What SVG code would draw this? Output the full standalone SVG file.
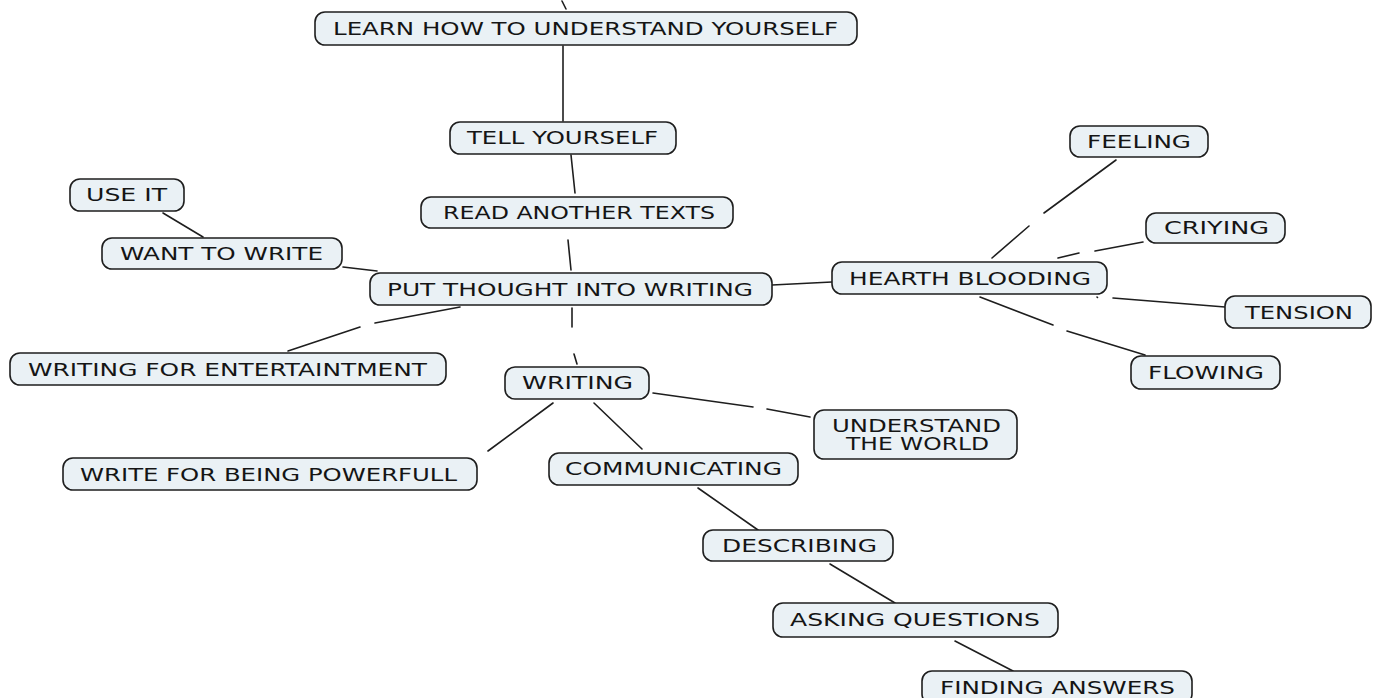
<svg xmlns="http://www.w3.org/2000/svg" width="1376" height="698" viewBox="0 0 1376 698">
<style>
.box{fill:#eaf1f5;stroke:#1e1e1e;stroke-width:1.6}
.t{font-family:"DejaVu Sans","Liberation Sans",sans-serif;font-size:17px;fill:#151515}
.c line{stroke:#1e1e1e;stroke-width:1.6;stroke-linecap:round}
</style>
<rect width="1376" height="698" fill="#ffffff"/>
<g class="c" id="connectors">
<line x1="562" y1="1" x2="566" y2="9"/>
<line x1="563" y1="46" x2="563" y2="121"/>
<line x1="571" y1="155" x2="575" y2="193"/>
<line x1="568" y1="240" x2="571" y2="270"/>
<line x1="572" y1="308" x2="572" y2="327"/>
<line x1="574" y1="354" x2="577" y2="364"/>
<line x1="343" y1="267" x2="377" y2="271"/>
<line x1="163" y1="213" x2="203" y2="237"/>
<line x1="460" y1="307" x2="375" y2="323"/>
<line x1="360" y1="327" x2="288" y2="351"/>
<line x1="772" y1="285" x2="832" y2="282"/>
<line x1="1116" y1="160" x2="1044" y2="213"/>
<line x1="1029" y1="226" x2="992" y2="258"/>
<line x1="1143" y1="242" x2="1095" y2="251"/>
<line x1="1079" y1="253" x2="1058" y2="258"/>
<line x1="1225" y1="307" x2="1113" y2="298"/>
<line x1="1097" y1="297" x2="1097.5" y2="297.5"/>
<line x1="980" y1="297" x2="1053" y2="325"/>
<line x1="1067" y1="331" x2="1145" y2="355"/>
<line x1="653" y1="393" x2="753" y2="407"/>
<line x1="767" y1="409" x2="810" y2="417"/>
<line x1="594" y1="403" x2="642" y2="449"/>
<line x1="553" y1="403" x2="488" y2="451"/>
<line x1="698" y1="488" x2="758" y2="530"/>
<line x1="830" y1="564" x2="895" y2="603"/>
<line x1="955" y1="641" x2="1013" y2="671"/>
</g>
<g id="n-learn"><rect class="box" x="315" y="12" width="542" height="33" rx="10"/><text class="t" x="333" y="35" textLength="505" lengthAdjust="spacingAndGlyphs">LEARN HOW TO UNDERSTAND YOURSELF</text></g>
<g id="n-tell"><rect class="box" x="450" y="122" width="226" height="32" rx="10"/><text class="t" x="467" y="144" textLength="191" lengthAdjust="spacingAndGlyphs">TELL YOURSELF</text></g>
<g id="n-read"><rect class="box" x="421" y="197" width="312" height="31" rx="10"/><text class="t" x="443" y="218.5" textLength="272" lengthAdjust="spacingAndGlyphs">READ ANOTHER TEXTS</text></g>
<g id="n-put"><rect class="box" x="370" y="273" width="402" height="32" rx="10"/><text class="t" x="387" y="295.5" textLength="366" lengthAdjust="spacingAndGlyphs">PUT THOUGHT INTO WRITING</text></g>
<g id="n-want"><rect class="box" x="102" y="238" width="240" height="31" rx="10"/><text class="t" x="120" y="259.5" textLength="203" lengthAdjust="spacingAndGlyphs">WANT TO WRITE</text></g>
<g id="n-use"><rect class="box" x="70" y="179" width="114" height="32" rx="10"/><text class="t" x="86" y="201" textLength="81" lengthAdjust="spacingAndGlyphs">USE IT</text></g>
<g id="n-entertain"><rect class="box" x="10" y="353" width="436" height="32" rx="10"/><text class="t" x="28" y="375.5" textLength="399" lengthAdjust="spacingAndGlyphs">WRITING FOR ENTERTAINTMENT</text></g>
<g id="n-writing"><rect class="box" x="505" y="367" width="144" height="32" rx="10"/><text class="t" x="522" y="389" textLength="111" lengthAdjust="spacingAndGlyphs">WRITING</text></g>
<g id="n-understand"><rect class="box" x="814" y="410" width="203" height="49" rx="10"/><text class="t" x="832" y="432" textLength="169" lengthAdjust="spacingAndGlyphs">UNDERSTAND</text><text class="t" x="846" y="450" textLength="143" lengthAdjust="spacingAndGlyphs">THE WORLD</text></g>
<g id="n-powerfull"><rect class="box" x="63" y="458" width="414" height="32" rx="10"/><text class="t" x="80" y="481" textLength="377" lengthAdjust="spacingAndGlyphs">WRITE FOR BEING POWERFULL</text></g>
<g id="n-comm"><rect class="box" x="549" y="453" width="249" height="32" rx="10"/><text class="t" x="565" y="475" textLength="217" lengthAdjust="spacingAndGlyphs">COMMUNICATING</text></g>
<g id="n-desc"><rect class="box" x="703" y="530" width="190" height="31" rx="10"/><text class="t" x="722" y="551.5" textLength="155" lengthAdjust="spacingAndGlyphs">DESCRIBING</text></g>
<g id="n-ask"><rect class="box" x="773" y="603" width="285" height="34" rx="10"/><text class="t" x="790" y="626" textLength="250" lengthAdjust="spacingAndGlyphs">ASKING QUESTIONS</text></g>
<g id="n-find"><rect class="box" x="922" y="671" width="270" height="33" rx="10"/><text class="t" x="940" y="694" textLength="235" lengthAdjust="spacingAndGlyphs">FINDING ANSWERS</text></g>
<g id="n-hearth"><rect class="box" x="832" y="262" width="275" height="32" rx="10"/><text class="t" x="849" y="284.5" textLength="242" lengthAdjust="spacingAndGlyphs">HEARTH BLOODING</text></g>
<g id="n-feeling"><rect class="box" x="1070" y="126" width="138" height="31" rx="10"/><text class="t" x="1087" y="147.5" textLength="104" lengthAdjust="spacingAndGlyphs">FEELING</text></g>
<g id="n-criying"><rect class="box" x="1146" y="213" width="139" height="30" rx="10"/><text class="t" x="1164" y="233.5" textLength="105" lengthAdjust="spacingAndGlyphs">CRIYING</text></g>
<g id="n-tension"><rect class="box" x="1225" y="296" width="146" height="32" rx="10"/><text class="t" x="1245" y="318.5" textLength="108" lengthAdjust="spacingAndGlyphs">TENSION</text></g>
<g id="n-flowing"><rect class="box" x="1131" y="356" width="149" height="33" rx="10"/><text class="t" x="1148" y="379" textLength="116" lengthAdjust="spacingAndGlyphs">FLOWING</text></g>
</svg>
